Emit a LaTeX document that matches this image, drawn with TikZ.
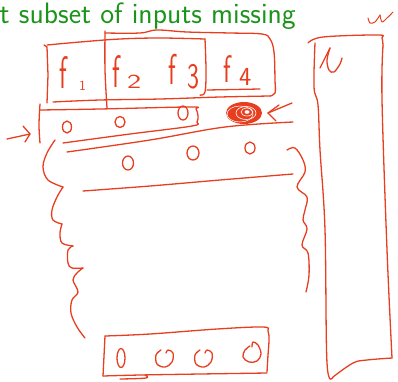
\documentclass[tikz,border=0pt]{standalone}
\definecolor{ink}{RGB}{232,62,32}
\definecolor{titlegreen}{RGB}{28,148,28}
\tikzset{
  pen/.style={draw=ink, line width=1.3pt, line cap=round, line join=round},
  handtext/.style={text=ink, inner sep=0pt, font=\sffamily},
  titletext/.style={text=titlegreen, inner sep=0pt, font=\sffamily\fontsize{29.5}{29.5}\selectfont}
}
\begin{document}
\begin{tikzpicture}[x=1pt,y=-1pt]
\useasboundingbox (0,0) rectangle (398,381);

% heading
\node[titletext, anchor=base west] (title) at (-0.5,23) {t subset of inputs missing};

% box around f1 ... f3
\draw[pen] (44,45) -- (47,47) -- (48,75) -- (47,103);
\draw[pen] plot[smooth,tension=0.6] coordinates {(47,45) (80,42) (120,39) (160,38) (205,39)};
\draw[pen] plot[smooth,tension=0.6] coordinates {(205,39) (206,70) (205,92) (200,95)};
% box around f2 ... f4
\draw[pen] plot[smooth,tension=0.6] coordinates {(107,108) (105,70) (105,31)};
\draw[pen] plot[smooth,tension=0.6] coordinates {(105,33) (140,33) (157,30) (187,32) (230,33) (262,34) (270,39) (274,52) (275,80) (275,93) (270,96)};
% shared bottom edge and underline of f4
\draw[pen] plot[smooth,tension=0.6] coordinates {(53,102) (100,100) (160,99) (220,97) (270,96)};
\draw[pen] (207,90) -- (260,89);

% feature labels
\node[handtext, anchor=base west] (f1) at (59,88) {\fontsize{24}{24}\selectfont\scalebox{1.1}[1.9]{f}};
\node[handtext, anchor=base west] (f1i) at (79,90) {\fontsize{14}{14}\selectfont 1};
\node[handtext, anchor=base west] (f2) at (112,87) {\fontsize{24}{24}\selectfont\scalebox{1.1}[1.9]{f}};
\node[handtext, anchor=base west] (f2i) at (127,88) {\fontsize{20}{20}\selectfont\scalebox{1.5}[1]{2}};
\node[handtext, anchor=base west] (f3) at (168,84) {\fontsize{24}{24}\selectfont\scalebox{1.1}[1.8]{f}};
\node[handtext, anchor=base west] (f3i) at (187,88) {\fontsize{30}{30}\selectfont\scalebox{0.85}[1.2]{3}};
\node[handtext, anchor=base west] (f4) at (223,82) {\fontsize{24}{24}\selectfont\scalebox{1.1}[1.6]{f}};
\node[handtext, anchor=base west] (f4i) at (239,85) {\fontsize{26}{26}\selectfont 4};

% first example row
\draw[pen] plot[smooth,tension=0.6] coordinates {(40,104) (39,125) (40,143)};
\draw[pen] plot[smooth,tension=0.6] coordinates {(40,110) (100,109) (190,107) (196,109) (198,116) (197,122) (192,126) (130,134) (63,143)};
\draw[pen] (67,127) ellipse [x radius=4.5pt, y radius=6pt];
\draw[pen] (120,122) ellipse [x radius=5pt, y radius=5.5pt];
\draw[pen] (183,113) ellipse [x radius=5pt, y radius=7pt];
\draw[pen] plot[smooth,tension=0.6] coordinates {(67,152) (150,140) (225,127) (293,122)};

% scribbled-out missing entry
\fill[ink] (244,113) ellipse [x radius=18pt, y radius=11pt];
\draw[white, line width=0.6pt] (246,113) ellipse [x radius=10pt, y radius=6.5pt];
\draw[white, line width=0.6pt] (247,112) ellipse [x radius=6pt, y radius=4pt];
\draw[white, line width=0.5pt] (240,114) ellipse [x radius=13pt, y radius=8pt];
\fill[white] (247,112) ellipse [x radius=2.5pt, y radius=1.8pt];
\coordinate (gaptip) at (268,113);
\draw[pen] (292,103) -- (gaptip);
\draw[pen] (279,105) -- (gaptip) -- (276,121);

% arrow pointing at the row
\coordinate (rowtip) at (30,134);
\draw[pen] (7,139) -- (rowtip);
\draw[pen] (23,126) -- (rowtip) -- (25,142);

% second example row
\draw[pen] (128,163) ellipse [x radius=5.5pt, y radius=7pt];
\draw[pen] (193,153) ellipse [x radius=6pt, y radius=7pt];
\draw[pen] (250,148) ellipse [x radius=5pt, y radius=6pt];
\draw[pen] plot[smooth,tension=0.6] coordinates {(83,191) (150,186) (220,180) (293,174)};

% left curly brace
\draw[pen] plot[smooth,tension=0.6] coordinates {(55,140) (47,153) (43,167) (48,180) (63,187)};
\draw[pen] plot[smooth,tension=0.6] coordinates {(63,187) (57,197) (52,210) (53,220) (62,224)};
\draw[pen] plot[smooth,tension=0.6] coordinates {(62,224) (60,233) (62,243) (73,246)};
\draw[pen] plot[smooth,tension=0.6] coordinates {(73,246) (68,250) (68,263) (72,268) (83,268)};
\draw[pen] plot[smooth,tension=0.6] coordinates {(83,268) (77,273) (73,280) (78,292) (72,300) (71,313) (77,327) (85,338)};

% right curly brace
\draw[pen] plot[smooth,tension=0.6] coordinates {(287,150) (295,148) (303,160) (305,172) (297,187) (307,197) (305,210) (303,220) (307,229) (302,245) (308,253) (309,275) (306,292)};

% last example row
\draw[pen] plot[smooth,tension=0.6] coordinates {(103,376) (104,356) (105,336)};
\draw[pen] plot[smooth,tension=0.6] coordinates {(105,336) (150,334) (217,329) (263,327) (268,331) (269,340) (268,355) (267,372)};
\draw[pen] plot[smooth,tension=0.6] coordinates {(267,373) (200,374) (140,375) (103,376)};
\draw[pen] plot[smooth,tension=0.6] coordinates {(120,379) (146,378) (145,375)};
\draw[pen] (121,358) ellipse [x radius=4pt, y radius=9.5pt];
\draw[pen] plot[smooth,tension=0.6] coordinates {(161,350) (156,355) (157,364) (165,367) (172,362) (173,353) (168,350) (166,353)};
\draw[pen] plot[smooth,tension=0.6] coordinates {(200,350) (195,355) (196,364) (204,367) (211,362) (212,353) (207,350) (205,353)};
\draw[pen] plot[smooth,tension=0.6] coordinates {(250,346) (245,350) (243,357) (249,362) (257,361) (261,354) (258,345) (253,342) (252,347)};

% tall vector on the right
\draw[pen] plot[smooth,tension=0.6] coordinates {(308,43) (323,37) (378,35) (382,38) (383,46)};
\draw[pen] plot[smooth,tension=0.6] coordinates {(383,46) (382,100) (387,250) (392,358)};
\draw[pen] plot[smooth,tension=0.6] coordinates {(315,43) (314,87) (318,105) (320,150) (325,230) (327,363) (333,377)};
\draw[pen] plot[smooth,tension=0.6] coordinates {(333,377) (353,363) (367,360) (392,358)};
\draw[pen] (320,68) -- (330,48);
\draw[pen] plot[smooth,tension=0.6] coordinates {(330,48) (327,60) (329,70) (334,72) (340,64) (342,58)};

% mark in the top corner
\draw[pen, line width=1pt] plot[smooth,tension=0.5] coordinates {(368,18) (370,23) (375,22) (380,15)};
\draw[pen, line width=1pt] plot[smooth,tension=0.5] coordinates {(380,15) (382,22) (387,18) (393,12)};
\end{tikzpicture}
\end{document}
